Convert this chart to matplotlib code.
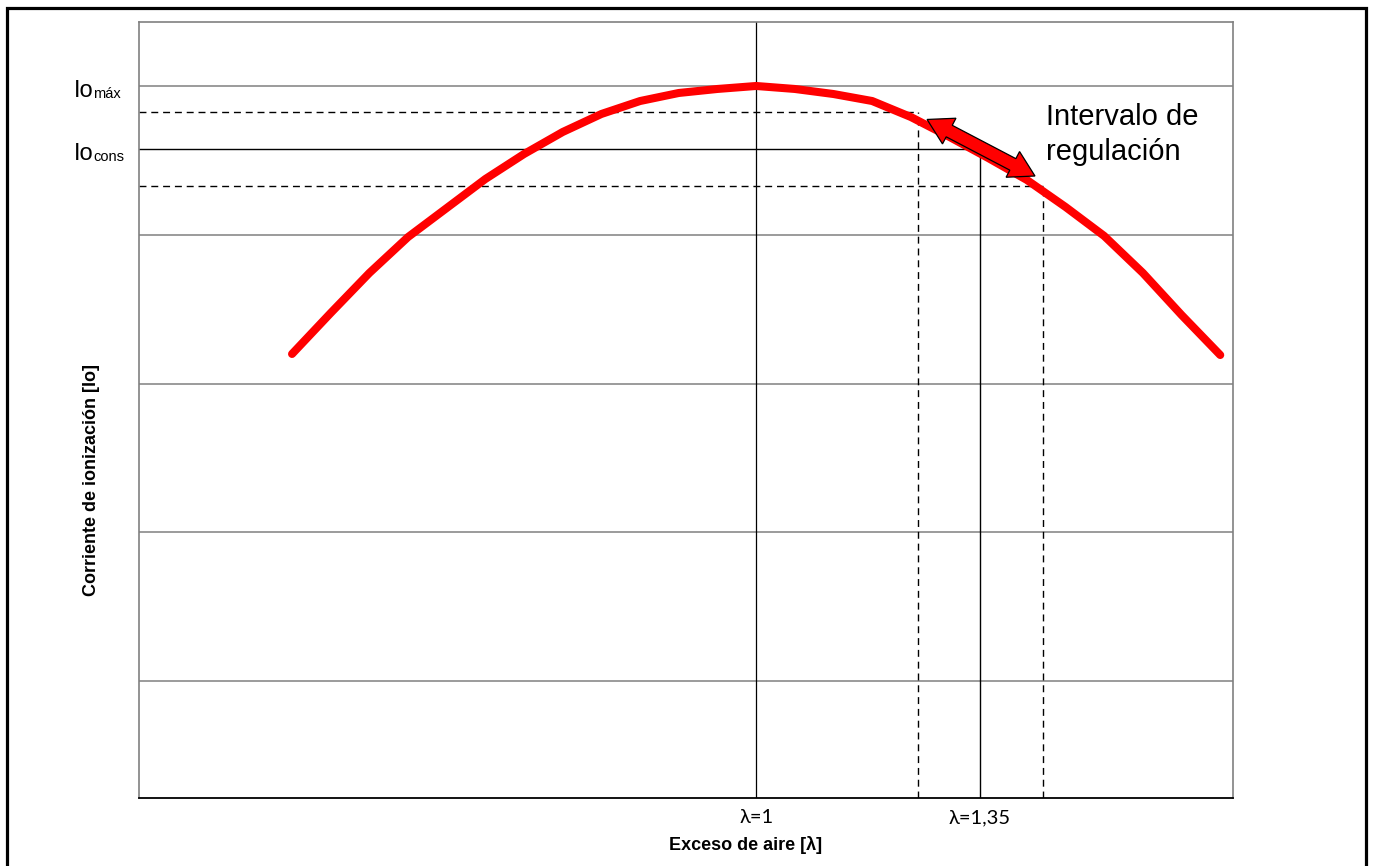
import numpy as np
import matplotlib
matplotlib.use("Agg")
import matplotlib.pyplot as plt
from matplotlib.patches import Polygon, Rectangle
from matplotlib.transforms import IdentityTransform

# ---------------- data ----------------
x_idx = list(range(25))
io_curve = [63.98, 69.49, 74.87, 79.70, 83.60, 87.50, 90.86, 93.82, 96.24, 97.98,
            99.06, 99.60, 100.0, 99.60, 98.92, 97.98, 95.83, 93.15, 90.32, 87.37,
            83.74, 79.84, 74.87, 69.22, 63.84]
grid_y = [100, 80, 60, 40, 20]
io_max, io_upper, io_cons, io_lower = 100.0, 96.5, 91.5, 86.56
lam_1, lam_upper, lam_135, lam_lower = 12.0, 16.19, 17.79, 19.42
xtick_pos = [lam_1, lam_135]
xtick_labels = ["λ=1", "λ=1,35"]
arrow_start = (16.42, 95.5)
arrow_end = (19.21, 87.9)
x_limits = (-3.957, 24.33)
y_limits = (4.30, 108.60)

W, H = 1373, 866
fig = plt.figure(figsize=(W / 100, H / 100), dpi=100)
ax = fig.add_axes([139 / W, (H - 798) / H, (1233 - 139) / W, (798 - 22) / H])
ax.set_xlim(*x_limits)
ax.set_ylim(*y_limits)

sans = ["Liberation Sans", "DejaVu Sans"]
tickfont = ["Lato", "Noto Sans", "DejaVu Sans"]

# grid lines
for gy in grid_y:
    ax.axhline(gy, color="#808080", lw=1.1, zorder=1)

# reference lines
ax.axvline(lam_1, color="black", lw=0.9, zorder=2)
ax.plot([x_limits[0], lam_135], [io_cons, io_cons], color="black", lw=1.0, zorder=2)
ax.plot([lam_135, lam_135], [y_limits[0], io_cons], color="black", lw=1.0, zorder=2)
dash = (0, (5, 3.5))
ax.plot([x_limits[0], lam_upper], [io_upper, io_upper], color="black", lw=1.0, ls=dash, zorder=2)
ax.plot([lam_upper, lam_upper], [y_limits[0], io_upper], color="black", lw=1.0, ls=dash, zorder=2)
ax.plot([x_limits[0], lam_lower], [io_lower, io_lower], color="black", lw=1.0, ls=dash, zorder=2)
ax.plot([lam_lower, lam_lower], [y_limits[0], io_lower], color="black", lw=1.0, ls=dash, zorder=2)

# red curve
ax.plot(x_idx, io_curve, color="#ff0000", lw=5.8, solid_capstyle="round",
        solid_joinstyle="round", zorder=3)

# spines
for s in ["left", "top", "right"]:
    ax.spines[s].set_color("#808080")
    ax.spines[s].set_linewidth(1.2)
ax.spines["bottom"].set_color("black")
ax.spines["bottom"].set_linewidth(1.3)

# ticks
ax.set_yticks([])
ax.set_xticks(xtick_pos)
ax.set_xticklabels(xtick_labels, family=tickfont, fontsize=14.5)
ax.tick_params(axis="x", length=0, pad=8)

# y labels Io_max / Io_cons
ytr = ax.get_yaxis_transform()
for yv, sub in [(io_max, "máx"), (io_cons, "cons")]:
    ax.annotate("Io", xy=(-0.042, yv), xycoords=ytr, xytext=(0, -11),
                textcoords="offset pixels", ha="right", va="baseline",
                family=sans, fontsize=17, annotation_clip=False)
    ax.annotate(sub, xy=(-0.042, yv), xycoords=ytr, xytext=(0, -12),
                textcoords="offset pixels", ha="left", va="baseline",
                family=sans, fontsize=10.5, annotation_clip=False)

# axis labels
ax.set_xlabel("Exceso de aire [λ]", family=sans, fontsize=13, fontweight="bold")
ax.xaxis.label.set_va("center")
ax.xaxis.set_label_coords(0.554, (798 - 845) / 776)
ax.set_ylabel("Corriente de ionización [Io]", family=sans, fontsize=13, fontweight="bold")
ax.yaxis.label.set_va("center")
ax.yaxis.set_label_coords((91 - 139) / 1094, (798 - 480) / 776)

# annotation text
ax.text(19.5, 94.76, "Intervalo de", family=sans, fontsize=21, ha="left", va="baseline", zorder=5)
ax.text(19.5, 90.05, "regulación", family=sans, fontsize=21, ha="left", va="baseline", zorder=5)

# double-headed block arrow (built in pixel space)
p1 = ax.transData.transform(arrow_start)
p2 = ax.transData.transform(arrow_end)
u = (p2 - p1) / np.hypot(*(p2 - p1))
n = np.array([-u[1], u[0]])
hl, hhw, bhw = 25, 14.5, 6.5
verts = [p1, p1 + u * hl + n * hhw, p1 + u * hl + n * bhw,
         p2 - u * hl + n * bhw, p2 - u * hl + n * hhw, p2,
         p2 - u * hl - n * hhw, p2 - u * hl - n * bhw,
         p1 + u * hl - n * bhw, p1 + u * hl - n * hhw]
poly = Polygon(verts, closed=True, facecolor="#ff0000", edgecolor="black",
               lw=0.9, transform=IdentityTransform(), zorder=6)
fig.add_artist(poly)

# outer frame
fig.add_artist(Rectangle((6.5 / W, -0.05), (1365.5 - 6.5) / W, 1.05 - 8 / H,
                         transform=fig.transFigure, fill=False, edgecolor="black",
                         lw=2.3, zorder=10))

fig.savefig("out.png", dpi=100)
